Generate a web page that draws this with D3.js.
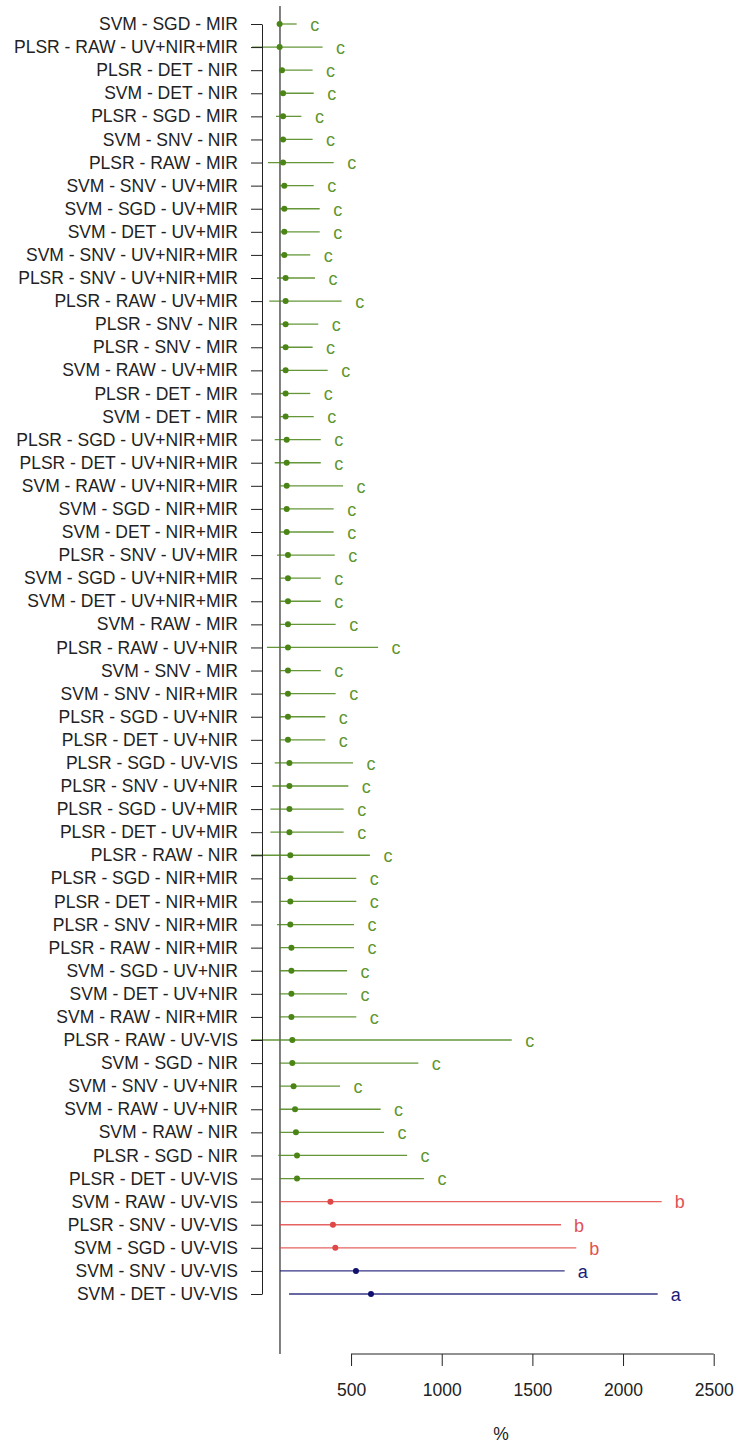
<!DOCTYPE html>
<html lang="en">
<head>
    <meta charset="UTF-8">
    <title>Model comparison</title>
    <style>
        body { margin: 0; background: #fff; }
        text { font-family: "Liberation Sans", Arial, sans-serif; }
        .axis text { font-size: 17.5px; fill: #222; }
        .axis path, .axis line { stroke: #222; }
    </style>
</head>
<body>
<svg width="740" height="1443"></svg>

<script src="https://d3js.org/d3.v7.min.js"></script>
<script>

    var models = ["SVM - SGD - MIR", "PLSR - RAW - UV+NIR+MIR", "PLSR - DET - NIR", "SVM - DET - NIR",
        "PLSR - SGD - MIR", "SVM - SNV - NIR", "PLSR - RAW - MIR", "SVM - SNV - UV+MIR",
        "SVM - SGD - UV+MIR", "SVM - DET - UV+MIR", "SVM - SNV - UV+NIR+MIR", "PLSR - SNV - UV+NIR+MIR",
        "PLSR - RAW - UV+MIR", "PLSR - SNV - NIR", "PLSR - SNV - MIR", "SVM - RAW - UV+MIR",
        "PLSR - DET - MIR", "SVM - DET - MIR", "PLSR - SGD - UV+NIR+MIR", "PLSR - DET - UV+NIR+MIR",
        "SVM - RAW - UV+NIR+MIR", "SVM - SGD - NIR+MIR", "SVM - DET - NIR+MIR", "PLSR - SNV - UV+MIR",
        "SVM - SGD - UV+NIR+MIR", "SVM - DET - UV+NIR+MIR", "SVM - RAW - MIR", "PLSR - RAW - UV+NIR",
        "SVM - SNV - MIR", "SVM - SNV - NIR+MIR", "PLSR - SGD - UV+NIR", "PLSR - DET - UV+NIR",
        "PLSR - SGD - UV-VIS", "PLSR - SNV - UV+NIR", "PLSR - SGD - UV+MIR", "PLSR - DET - UV+MIR",
        "PLSR - RAW - NIR", "PLSR - SGD - NIR+MIR", "PLSR - DET - NIR+MIR", "PLSR - SNV - NIR+MIR",
        "PLSR - RAW - NIR+MIR", "SVM - SGD - UV+NIR", "SVM - DET - UV+NIR", "SVM - RAW - NIR+MIR",
        "PLSR - RAW - UV-VIS", "SVM - SGD - NIR", "SVM - SNV - UV+NIR", "SVM - RAW - UV+NIR",
        "SVM - RAW - NIR", "PLSR - SGD - NIR", "PLSR - DET - UV-VIS", "SVM - RAW - UV-VIS",
        "PLSR - SNV - UV-VIS", "SVM - SGD - UV-VIS", "SVM - SNV - UV-VIS", "SVM - DET - UV-VIS"];

    var means = [106, 106, 119, 125, 125, 125, 125, 132,
        132, 132, 132, 139, 139, 139, 139, 139,
        139, 139, 145, 145, 145, 145, 145, 152,
        152, 152, 152, 152, 152, 152, 152, 152,
        160, 160, 160, 160, 165, 165, 165, 165,
        171, 171, 171, 171, 176, 176, 183, 191,
        196, 202, 202, 386, 400, 413, 527, 610];

    var lowers = [108, -46, 108, 108, 86, 108, 42, 108,
        108, 108, 108, 92, 49, 108, 108, 108,
        108, 108, 79, 79, 108, 108, 108, 92,
        108, 108, 108, 36, 108, 108, 108, 108,
        79, 66, 55, 55, -50, 108, 108, 92,
        108, 108, 108, 108, -50, 108, 108, 108,
        108, 99, 108, 108, 108, 108, 108, 158];

    var uppers = [200, 343, 288, 294, 226, 288, 404, 294,
        327, 327, 275, 301, 448, 319, 288, 371,
        275, 294, 333, 333, 456, 404, 404, 410,
        333, 333, 415, 649, 333, 415, 358, 358,
        511, 485, 459, 459, 604, 529, 529, 516,
        516, 478, 478, 529, 1386, 871, 439, 663,
        682, 809, 902, 2213, 1658, 1742, 1678, 2191];

    var groups = ["c", "c", "c", "c", "c", "c", "c", "c",
        "c", "c", "c", "c", "c", "c", "c", "c",
        "c", "c", "c", "c", "c", "c", "c", "c",
        "c", "c", "c", "c", "c", "c", "c", "c",
        "c", "c", "c", "c", "c", "c", "c", "c",
        "c", "c", "c", "c", "c", "c", "c", "c",
        "c", "c", "c", "b", "b", "b", "a", "a"];

    var xTicks = [500, 1000, 1500, 2000, 2500];
    var refLine = 108;

    var groupColor = d3.scaleOrdinal()
        .domain(["a", "b", "c"])
        .range(["#10106e", "#e04848", "#4a8516"]);
    var letterColor = d3.scaleOrdinal()
        .domain(["a", "b", "c"])
        .range(["#1c1c78", "#e05252", "#5f9630"]);

    var svg = d3.select("svg");

    var xScale = d3.scaleLinear().domain([0, 2500]).range([260.4, 713.7]);
    var yScale = d3.scalePoint().domain(models).range([24, 1294]);

    var rows = models.map(function(m, i) {
        return {model: m, mean: means[i], lo: lowers[i], hi: uppers[i], group: groups[i]};
    });

    // reference line
    svg.append("line")
        .attr("x1", xScale(refLine)).attr("x2", xScale(refLine))
        .attr("y1", 6).attr("y2", 1354)
        .attr("stroke", "#555")
        .attr("stroke-width", 1.5);

    // intervals
    svg.selectAll(".ci")
        .data(rows)
        .enter()
        .append("line")
        .attr("class", "ci")
        .attr("x1", function(d) { return xScale(d.lo); })
        .attr("x2", function(d) { return xScale(d.hi); })
        .attr("y1", function(d) { return yScale(d.model); })
        .attr("y2", function(d) { return yScale(d.model); })
        .attr("stroke", function(d) { return groupColor(d.group); })
        .attr("stroke-opacity", 0.85)
        .attr("stroke-width", 1.3);

    svg.selectAll(".dot")
        .data(rows)
        .enter()
        .append("circle")
        .attr("class", "dot")
        .attr("cx", function(d) { return xScale(d.mean); })
        .attr("cy", function(d) { return yScale(d.model); })
        .attr("r", 3)
        .attr("fill", function(d) { return groupColor(d.group); });

    svg.selectAll(".letter")
        .data(rows)
        .enter()
        .append("text")
        .attr("class", "letter")
        .attr("x", function(d) { return xScale(d.hi) + 18; })
        .attr("y", function(d) { return yScale(d.model); })
        .attr("dy", "0.38em")
        .attr("text-anchor", "middle")
        .style("font-size", "18px")
        .attr("fill", function(d) { return letterColor(d.group); })
        .text(function(d) { return d.group; });

    // left axis with model names
    var yAxis = d3.axisLeft(yScale)
        .tickSizeInner(11)
        .tickSizeOuter(0)
        .tickPadding(13);

    svg.append("g")
        .attr("class", "y axis")
        .attr("transform", "translate(262,0)")
        .call(yAxis);

    // bottom axis, R style: line only between first and last tick
    var xAxis = d3.axisBottom(xScale)
        .tickValues(xTicks)
        .tickFormat(d3.format("d"))
        .tickSizeInner(12)
        .tickSizeOuter(0)
        .tickPadding(18);

    var xg = svg.append("g")
        .attr("class", "x axis")
        .attr("transform", "translate(0,1354)")
        .call(xAxis);
    xg.select(".domain").remove();
    xg.append("line")
        .attr("x1", xScale(xTicks[0]))
        .attr("x2", xScale(xTicks[xTicks.length - 1]))
        .attr("stroke", "#222");

    svg.append("text")
        .attr("x", 501)
        .attr("y", 1434)
        .attr("dy", "0.35em")
        .attr("text-anchor", "middle")
        .style("font-size", "17.5px")
        .attr("fill", "#222")
        .text("%");
</script>
</body>
</html>
